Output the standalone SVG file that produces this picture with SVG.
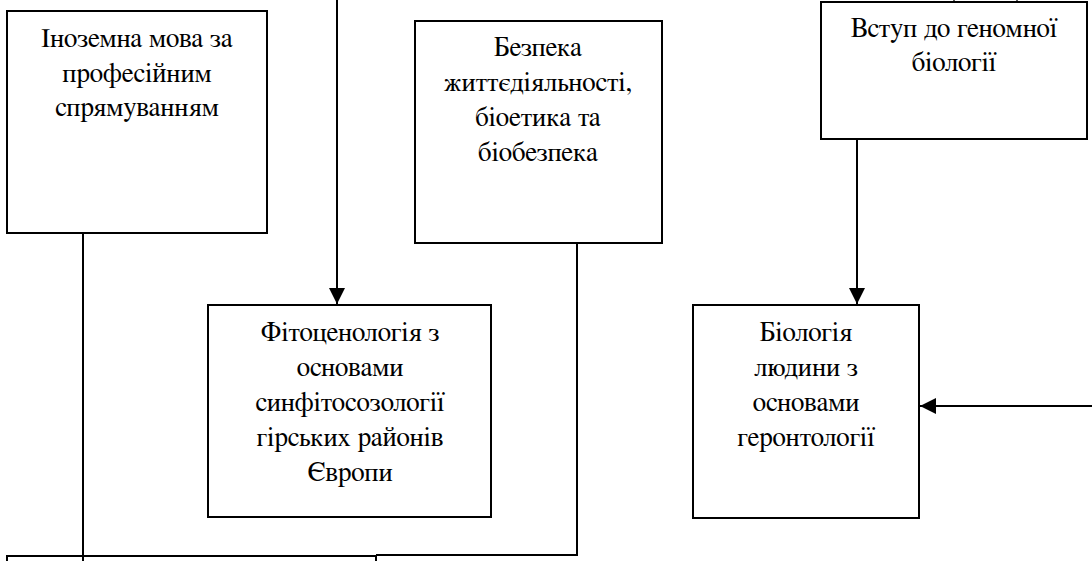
<svg xmlns="http://www.w3.org/2000/svg" width="1092" height="561" viewBox="0 0 1092 561">
<style>
  .box { fill: #ffffff; stroke: #000000; stroke-width: 2; }
  .lbl { font-family: FreeSerif, 'Liberation Serif', 'DejaVu Serif', serif; font-size: 27px; fill: #000000; text-anchor: middle; }
  .ln { fill: none; stroke: #000000; stroke-width: 2; }
  .thin { fill: none; stroke: #000000; stroke-width: 1.3; }
</style>
<defs>
  <marker id="arr" markerUnits="userSpaceOnUse" markerWidth="16" markerHeight="16" viewBox="0 0 16 16" refX="16" refY="8" orient="auto">
    <path d="M0,0 L16,8 L0,16 Z" fill="#000000"/>
  </marker>
</defs>
<rect x="0" y="0" width="1092" height="561" fill="#ffffff"/>

<g id="connectors">
  <line class="thin" x1="954" y1="0" x2="954" y2="2"/>
  <line class="thin" x1="1017" y1="0" x2="1017" y2="2"/>
  <line class="ln" x1="337" y1="0" x2="337" y2="304" marker-end="url(#arr)"/>
  <line class="ln" x1="857" y1="139" x2="857" y2="304" marker-end="url(#arr)"/>
  <line class="ln" x1="1092" y1="406" x2="920" y2="406" marker-end="url(#arr)"/>
  <polyline class="ln" points="577,243 577,555 376,555"/>
</g>

<g id="node-inozemna">
  <rect class="box" x="7" y="11" width="260" height="222"/>
  <text class="lbl" x="137" y="47">Іноземна мова за</text>
  <text class="lbl" x="137" y="82">професійним</text>
  <text class="lbl" x="137" y="116">спрямуванням</text>
</g>

<g id="node-bezpeka">
  <rect class="box" x="415" y="21" width="247" height="222"/>
  <text class="lbl" x="538" y="56">Безпека</text>
  <text class="lbl" x="538" y="91">життєдіяльності,</text>
  <text class="lbl" x="538" y="126">біоетика та</text>
  <text class="lbl" x="538" y="161">біобезпека</text>
</g>

<g id="node-vstup">
  <rect class="box" x="821" y="2" width="266" height="137"/>
  <text class="lbl" x="954" y="37">Вступ до геномної</text>
  <text class="lbl" x="954" y="71">біології</text>
</g>

<g id="node-fito">
  <rect class="box" x="208" y="305" width="283" height="212"/>
  <text class="lbl" x="350" y="341">Фітоценологія з</text>
  <text class="lbl" x="350" y="376">основами</text>
  <text class="lbl" x="350" y="411">синфітосозології</text>
  <text class="lbl" x="350" y="446">гірських районів</text>
  <text class="lbl" x="350" y="481">Європи</text>
</g>

<g id="node-biologiya">
  <rect class="box" x="693" y="305" width="226" height="213"/>
  <text class="lbl" x="806" y="341">Біологія</text>
  <text class="lbl" x="806" y="376">людини з</text>
  <text class="lbl" x="806" y="411">основами</text>
  <text class="lbl" x="806" y="446">геронтології</text>
</g>

<g id="node-bottom">
  <rect class="box" x="7" y="556" width="369" height="40"/>
</g>

<g id="connectors-over">
  <line class="ln" x1="83" y1="233" x2="83" y2="561"/>
</g>
</svg>
